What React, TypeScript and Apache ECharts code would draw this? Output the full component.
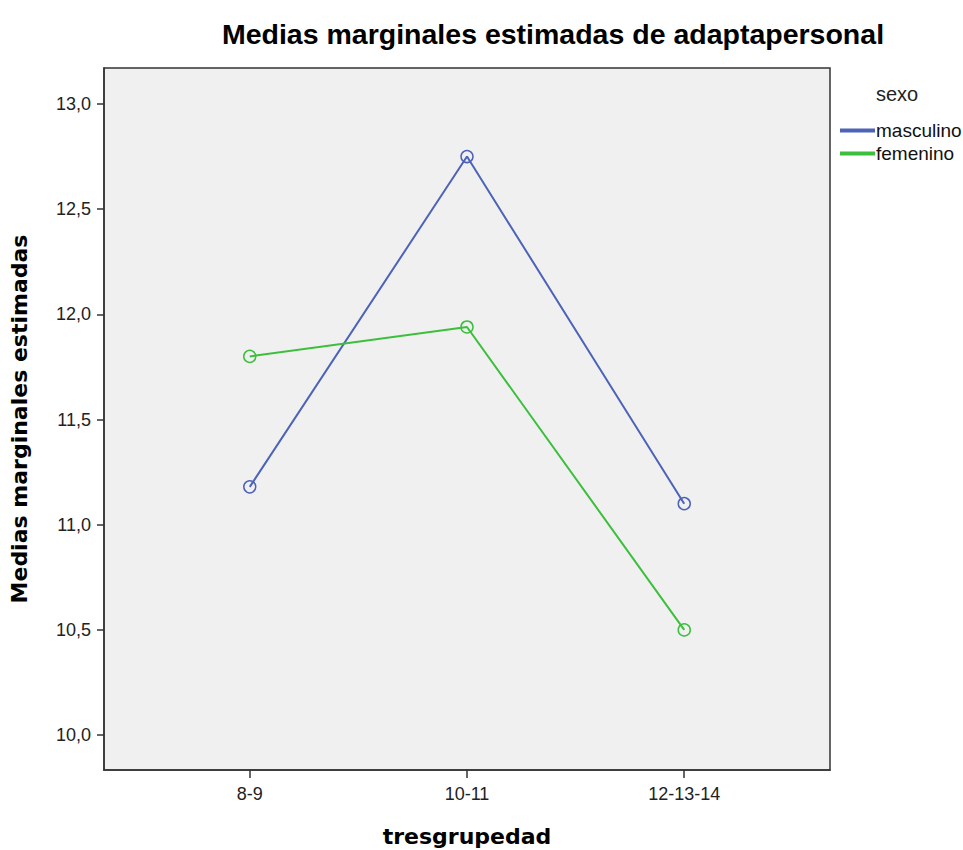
import React, { useEffect, useRef } from "react";
import * as echarts from "echarts";

const categories = ["8-9", "10-11", "12-13-14"];
const masculino = [11.18, 12.75, 11.1];
const femenino = [11.8, 11.94, 10.5];
const yTicks = [10, 10.5, 11, 11.5, 12, 12.5, 13];
const seriesNames = ["masculino", "femenino"];

const FONT = "Liberation Sans, Arial, sans-serif";
const NAME_FONT = "DejaVu Sans, sans-serif";

export default function App() {
  const ref = useRef<HTMLDivElement>(null);
  useEffect(() => {
    document.body.style.margin = "0";
    if (!ref.current) return;
    const chart = echarts.init(ref.current, null, { renderer: "svg" });
    const idx = categories.map((_, i) => i);
    const mk = (vals: number[]) => vals.map((v, i) => [idx[i], v]);
    const colors = ["#4d63b8", "#3cbf3c"];
    chart.setOption({
      animation: false,
      textStyle: { fontFamily: FONT },
      title: [
        {
          text: "Medias marginales estimadas de adaptapersonal",
          left: 548,
          textAlign: "center",
          top: 14,
          textStyle: { fontSize: 28.5, fontWeight: "bold", color: "#000", fontFamily: FONT },
        },
        {
          text: "sexo",
          left: 871,
          top: 79,
          textStyle: { fontSize: 20, fontWeight: "normal", color: "#222", fontFamily: FONT },
        },
      ],
      legend: {
        orient: "vertical",
        left: 835,
        top: 116,
        icon: "rect",
        itemWidth: 33,
        itemHeight: 2,
        itemGap: 4,
        data: seriesNames,
        textStyle: { fontSize: 19, color: "#111", fontFamily: FONT, padding: [0, 0, 0, -3] },
      },
      grid: {
        left: 104,
        top: 68,
        width: 726,
        height: 702,
        show: true,
        backgroundColor: "#f0f0f0",
        borderColor: "#333",
        borderWidth: 1.5,
        outerBoundsMode: "none",
        containLabel: false,
      },
      xAxis: {
        type: "value",
        min: -0.671,
        max: 2.671,
        name: "tresgrupedad",
        nameLocation: "middle",
        nameGap: 55,
        nameTextStyle: { fontSize: 22, fontWeight: "bold", color: "#000", fontFamily: NAME_FONT },
        axisLine: { show: true, onZero: false, lineStyle: { color: "#333", width: 1.5 } },
        axisTick: { show: true, length: 8, customValues: idx, lineStyle: { color: "#333", width: 1.5 } },
        axisLabel: {
          customValues: idx,
          formatter: (v: number) => categories[Math.round(v)] ?? "",
          fontSize: 18,
          color: "#222",
          margin: 15,
        },
        splitLine: { show: false },
      },
      yAxis: {
        type: "value",
        min: 9.834,
        max: 13.171,
        name: "Medias marginales estimadas",
        nameLocation: "middle",
        nameGap: 74,
        nameTextStyle: { fontSize: 22, fontWeight: "bold", color: "#000", fontFamily: NAME_FONT },
        axisLine: { show: true, onZero: false, lineStyle: { color: "#333", width: 1.5 } },
        axisTick: { show: true, length: 7, customValues: yTicks, lineStyle: { color: "#333", width: 1.5 } },
        axisLabel: {
          customValues: yTicks,
          formatter: (v: number) => v.toFixed(1).replace(".", ","),
          fontSize: 18,
          color: "#222",
          margin: 13,
        },
        splitLine: { show: false },
      },
      series: [
        {
          name: seriesNames[0],
          type: "line",
          data: mk(masculino),
          color: colors[0],
          symbol: "circle",
          symbolSize: 12,
          itemStyle: { color: "rgba(0,0,0,0)", borderColor: colors[0], borderWidth: 1.5 },
          lineStyle: { color: colors[0], width: 2 },
        },
        {
          name: seriesNames[1],
          type: "line",
          data: mk(femenino),
          color: colors[1],
          symbol: "circle",
          symbolSize: 12,
          itemStyle: { color: "rgba(0,0,0,0)", borderColor: colors[1], borderWidth: 1.5 },
          lineStyle: { color: colors[1], width: 2 },
        },
      ],
    });
    return () => chart.dispose();
  }, []);
  return <div ref={ref} style={{ width: 963, height: 850 }} />;
}
